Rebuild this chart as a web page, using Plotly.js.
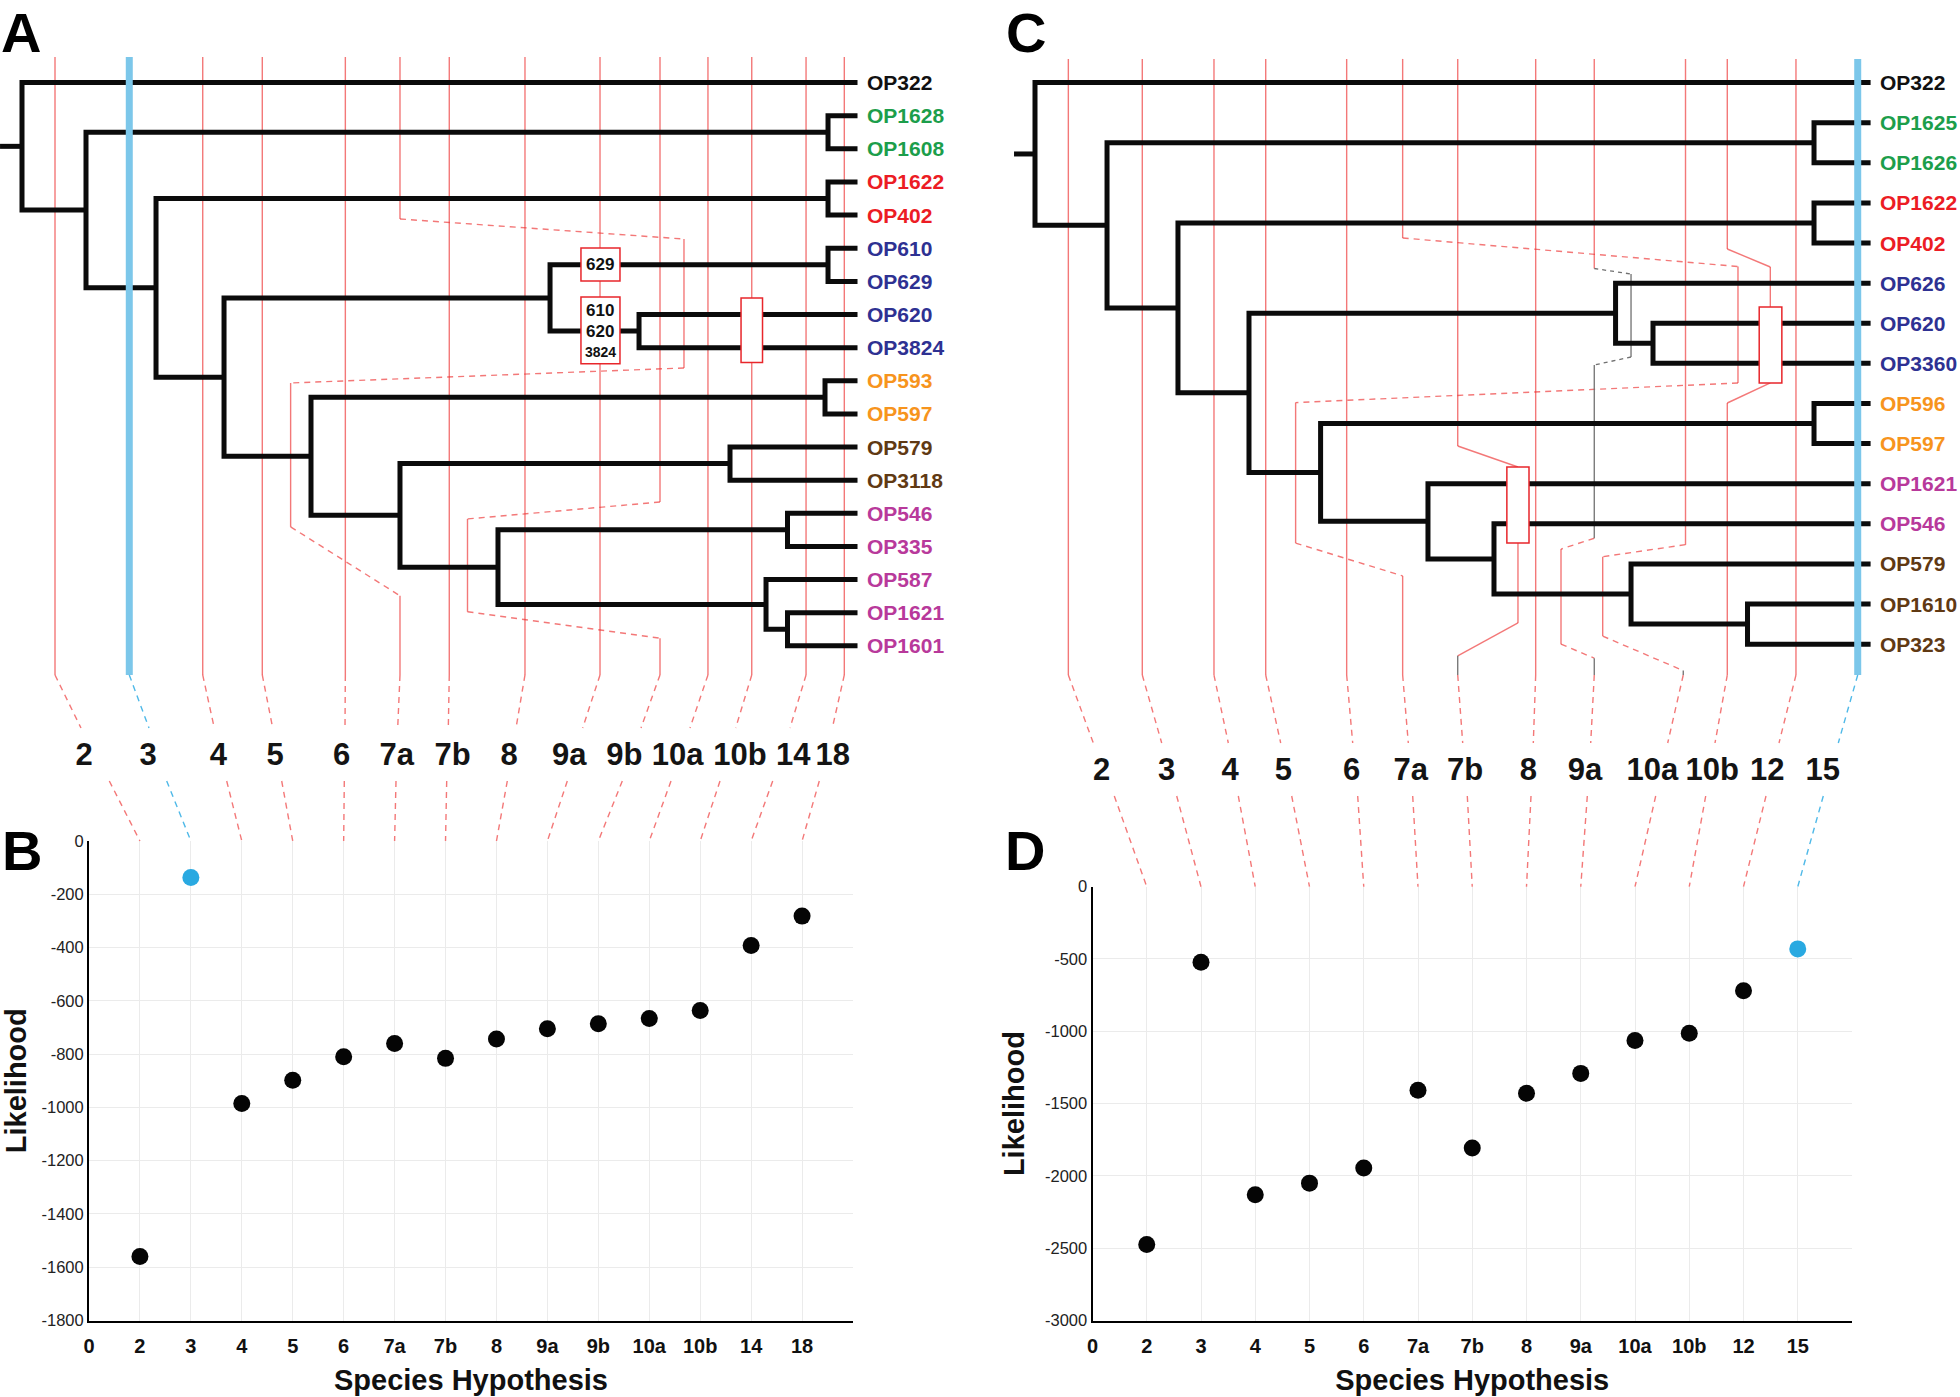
<!DOCTYPE html>
<html>
<head>
<meta charset="utf-8">
<script src="https://cdn.plot.ly/plotly-3.0.1.min.js"></script>
<style>
html,body{margin:0;padding:0;background:#ffffff;}
#chart{width:1960px;height:1397px;}
</style>
</head>
<body>
<div id="chart"></div>
<script>
// ======================= DATA =======================
// ---- Panel A tree ----
const tipsA = ['OP322','OP1628','OP1608','OP1622','OP402','OP610','OP629','OP620','OP3824',
               'OP593','OP597','OP579','OP3118','OP546','OP335','OP587','OP1621','OP1601'];
const tipGroupA = ['out','g','g','r','r','b','b','b','b','o','o','br','br','p','p','p','p','p'];
// internal nodes: [name, depth (root = 0, tips = 100), child 1, child 2]
const nodesA = [
  ['root', 0,     'OP322', 'n2'],
  ['n2',   7.66,  'cG',    'n3'],
  ['cG',   96.47, 'OP1628','OP1608'],
  ['n3',   16.04, 'cR',    'n4'],
  ['cR',   96.47, 'OP1622','OP402'],
  ['n4',   24.18, 'cB',    'n5'],
  ['cB',   63.2,  'cB1',   'cB2'],
  ['cB1',  96.47, 'OP610', 'OP629'],
  ['cB2',  73.85, 'OP620', 'OP3824'],
  ['n5',   34.59, 'cO',    'n6'],
  ['cO',   96.11, 'OP593', 'OP597'],
  ['n6',   45.24, 'cBr',   'n7'],
  ['cBr',  84.74, 'OP579', 'OP3118'],
  ['n7',   56.97, 'cP1',   'cP2'],
  ['cP1',  91.62, 'OP546', 'OP335'],
  ['cP2',  89.05, 'OP587', 'cP3'],
  ['cP3',  91.62, 'OP1621','OP1601']
];
const rootStubA = -2.63;
// ---- Panel B (species hypotheses for tree A) ----
const hypA  = ['2','3','4','5','6','7a','7b','8','9a','9b','10a','10b','14','18'];
const likeA = [-1560,-137,-985,-898,-810,-760,-816,-743,-705,-686,-666,-636,-392,-282];
const cutA  = [3.95,12.84,21.63,28.76,38.70,45.24,51.14,60.20,69.18,76.36,82.10,87.34,93.84,98.42];
const bestA = '3';
const boxTextA = ['629','610','620','3824'];
const yTicksB = [0,-200,-400,-600,-800,-1000,-1200,-1400,-1600,-1800];

// ---- Panel C tree ----
const tipsC = ['OP322','OP1625','OP1626','OP1622','OP402','OP626','OP620','OP3360',
               'OP596','OP597','OP1621','OP546','OP579','OP1610','OP323'];
const tipGroupC = ['out','g','g','r','r','b','b','b','o','o','p','p','br','br','br'];
const nodesC = [
  ['root', 0,     'OP322', 'n2'],
  ['n2',   8.62,  'cG',    'n3'],
  ['cG',   93.23, 'OP1625','OP1626'],
  ['n3',   17.11, 'cR',    'n4'],
  ['cR',   93.23, 'OP1622','OP402'],
  ['n4',   25.61, 'cB',    'n5'],
  ['cB',   69.48, 'OP626', 'cB2'],
  ['cB2',  73.96, 'OP620', 'OP3360'],
  ['n5',   34.18, 'cO',    'n6'],
  ['cO',   93.23, 'OP596', 'OP597'],
  ['n6',   47.03, 'OP1621','n7'],
  ['n7',   54.93, 'OP546', 'n8'],
  ['n8',   71.33, 'OP579', 'n9'],
  ['n9',   85.27, 'OP1610','OP323']
];
const rootStubC = -2.51;
// ---- Panel D (species hypotheses for tree C) ----
const hypC  = ['2','3','4','5','6','7a','7b','8','9a','10a','10b','12','15'];
const likeC = [-2474,-522,-2130,-2050,-1946,-1408,-1807,-1429,-1291,-1063,-1014,-719,-430];
const cutC  = [3.99,12.84,21.42,27.61,37.30,44.00,50.59,59.92,66.93,77.85,82.85,91.07,98.46];
const bestC = '15';
const yTicksD = [0,-500,-1000,-1500,-2000,-2500,-3000];

// ======================= GEOMETRY & STYLE =======================
const W = 1960, H = 1397;
const FONT = 'Liberation Sans, Arial, Helvetica, sans-serif';
const GROUPCOL = {out:'#111111', g:'#1c9e4b', r:'#ec1c24', b:'#2e3192', o:'#f7941d', br:'#603913', p:'#b8399b'};
const RED = 'rgba(236,48,48,0.65)', GREY = '#707070', BLUE = '#7cc7ea', BLUEDASH = '#4fb9e8';

const AX = {
  tA: {xd:[0,0.5], xr:[-2.633,114.66], yd:[0,1], yr:[39.674,-2.4932]},
  tC: {xd:[0.5,1], xr:[-6.582,110.70], yd:[0,1], yr:[32.77,-2.0593]},
  B:  {xd:[0.045408,0.435204], xr:[0,15], yd:[0.05476,0.397996], yr:[-1800,0]},
  D:  {xd:[0.557398,0.944898], xr:[0,14], yd:[0.05476,0.365283], yr:[-3000,0]}
};
function toPx(a, v){ return (a.xd[0] + (v-a.xr[0])/(a.xr[1]-a.xr[0])*(a.xd[1]-a.xd[0]))*W; }
function toPy(a, v){ return (1 - (a.yd[0] + (v-a.yr[0])/(a.yr[1]-a.yr[0])*(a.yd[1]-a.yd[0])))*H; }

// cut-line extent (tree rows) and detour paths (tree units: [depth, row]); segment styles:
// s = red solid, d = red dashed, g = grey solid, G = grey dashed, n = gap
const cutRowsA = [-0.77, 17.88];
const cutRowsC = [-0.59, 14.77];
const pathsA = {
  '7a': {pts:[[45.24,-0.77],[45.24,4.117],[79.23,4.721],[79.23,8.614],[32.15,9.067],[32.15,13.41],[45.24,15.49],[45.24,17.88]], st:'sdsdsds'},
  '9b': {pts:[[76.36,-0.77],[76.36,12.66],[53.32,13.17],[53.32,15.97],[76.36,16.77],[76.36,17.88]], st:'sdsds'}
};
const pathsC = {
  '7a':  {pts:[[44.00,-0.59],[44.00,3.874],[84.13,4.585],[84.13,7.489],[31.19,7.978],[31.19,11.48],[44.00,12.30],[44.00,14.77]], st:'sdsdsds'},
  '7b':  {pts:[[50.59,-0.59],[50.59,9.06],[57.80,9.584],[57.80,11.48],[57.80,13.47],[50.59,14.29],[50.59,14.77]], st:'ssnssg'},
  '9a':  {pts:[[66.93,-0.59],[66.93,4.635],[71.33,4.772],[71.33,6.841],[66.93,7.041],[66.93,11.36],[62.95,11.63],[62.95,14.0],[66.93,14.35],[66.93,14.77]], st:'sGgGgdsdg'},
  '10a': {pts:[[77.85,-0.59],[77.85,11.52],[67.94,11.82],[67.94,13.80],[77.58,14.66],[77.58,14.77]], st:'sdsdg'},
  '10b': {pts:[[82.85,-0.59],[82.85,4.149],[88.0,4.597],[88.0,5.595],[88.0,7.489],[82.85,7.988],[82.85,14.77]], st:'sssnss'}
};
// boxes on branches (tree units)
const boxesA = [[66.9,71.57,4.99,5.99],[66.9,71.57,6.47,8.49],[86.06,88.63,6.5,8.45]];
const boxLabelPosA = [[69.23,5.5,17],[69.23,6.864,17],[69.23,7.519,17],[69.23,8.123,14]];
const boxesC = [[56.47,59.12,9.584,11.48],[86.67,89.38,5.595,7.489]];

// hypothesis-label row (pixels)
const labRowA = {y:757, yUp:728, yLow:781,
  lab:[84,148,218.3,275,341.7,396.7,452.7,509,569.3,624.3,677.7,740,793.3,832.7],
  up:[81,149,214.3,272.7,345,397.7,448.3,516,582.7,641,690,735.7,790,832.3],
  low:[109.3,166.7,226.7,281.7,344.3,396,446.7,507.3,567.3,622.3,671,720,772.7,819.3]};
const labRowC = {y:772, yUp:743, yLow:796,
  lab:[1101.7,1166.7,1230,1283.3,1351.7,1410.7,1465,1528.3,1585,1652.3,1712.3,1767.3,1822.7],
  up:[1093.3,1161.7,1228.3,1280.7,1352.7,1408.3,1462.7,1533.3,1590.7,1667.7,1715,1779,1838.3],
  low:[1114.3,1176.7,1238.3,1291.7,1357.7,1412.7,1467.3,1531,1587.3,1655.7,1705.7,1766,1823.3]};

// ======================= BUILDERS =======================
function treeLines(tips, nodes, stub){
  const y = {}, dep = {}, map = {};
  tips.forEach((t,i)=>{ y[t]=i; dep[t]=100; });
  nodes.forEach(n=>{ map[n[0]]=n; dep[n[0]]=n[1]; });
  const gy = nm => (nm in y) ? y[nm] : (y[nm] = (gy(map[nm][2]) + gy(map[nm][3]))/2);
  const xs=[], ys=[];
  nodes.forEach(([nm,d,c1,c2])=>{
    gy(nm);
    xs.push(dep[c1], d, d, dep[c2], null);
    ys.push(y[c1], y[c1], y[c2], y[c2], null);
  });
  xs.push(stub, 0, null); ys.push(y.root, y.root, null);
  return {xs, ys};
}
function cutLines(cuts, hyps, best, paths, rows){
  const seg = {s:{x:[],y:[]}, d:{x:[],y:[]}, g:{x:[],y:[]}, G:{x:[],y:[]}, blue:{x:[],y:[]}};
  const endX = [];
  cuts.forEach((c,i)=>{
    const h = hyps[i];
    if (h === best){ seg.blue.x.push(c,c,null); seg.blue.y.push(rows[0],rows[1],null); endX.push(c); return; }
    const p = paths[h];
    if (!p){ seg.s.x.push(c,c,null); seg.s.y.push(rows[0],rows[1],null); endX.push(c); return; }
    for (let k=0;k<p.st.length;k++){
      const t = p.st[k]; if (t==='n') continue;
      seg[t].x.push(p.pts[k][0], p.pts[k+1][0], null);
      seg[t].y.push(p.pts[k][1], p.pts[k+1][1], null);
    }
    endX.push(p.pts[p.pts.length-1][0]);
  });
  return {seg, endX};
}
function connectors(treeAx, scatAx, endX, row, hyps, best, botRow){
  const red={x:[],y:[]}, blue={x:[],y:[]};
  const top = toPy(scatAx, 0), yb = toPy(treeAx, botRow);
  hyps.forEach((h,i)=>{
    const t = (h===best) ? blue : red;
    t.x.push(toPx(treeAx,endX[i]), row.up[i], null, row.low[i], toPx(scatAx,i+1), null);
    t.y.push(yb, row.yUp, null, row.yLow, top, null);
  });
  return {red, blue};
}
function lineTrace(xy, xa, ya, color, width, dash){
  return {type:'scatter', mode:'lines', x:xy.x, y:xy.y, xaxis:xa, yaxis:ya, hoverinfo:'skip',
          line:{color:color, width:width, dash:dash||'solid'}, connectgaps:false};
}

const tA = treeLines(tipsA, nodesA, rootStubA);
const tC = treeLines(tipsC, nodesC, rootStubC);
const cA = cutLines(cutA, hypA, bestA, pathsA, cutRowsA);
const cC = cutLines(cutC, hypC, bestC, pathsC, cutRowsC);
const kA = connectors(AX.tA, AX.B, cA.endX, labRowA, hypA, bestA, cutRowsA[1]);
const kC = connectors(AX.tC, AX.D, cC.endX, labRowC, hypC, bestC, cutRowsC[1]);

const traces = [];
function treePanel(c, t, xa, ya){
  traces.push(lineTrace(c.seg.s, xa, ya, RED, 1.4));
  traces.push(lineTrace(c.seg.d, xa, ya, RED, 1.4, '6px,5px'));
  traces.push(lineTrace(c.seg.g, xa, ya, GREY, 1.3));
  traces.push(lineTrace(c.seg.G, xa, ya, GREY, 1.3, '4px,4px'));
  traces.push(lineTrace({x:t.xs, y:t.ys}, xa, ya, '#0b0b0b', 5));
  traces.push(lineTrace(c.seg.blue, xa, ya, BLUE, 7));
}
treePanel(cA, tA, 'x', 'y');
treePanel(cC, tC, 'x2', 'y2');

// connectors + hypothesis label rows (pixel overlay axes)
traces.push(lineTrace({x:kA.red.x.concat(kC.red.x), y:kA.red.y.concat(kC.red.y)}, 'x5','y5', RED, 1.4, '6px,5px'));
traces.push(lineTrace({x:kA.blue.x.concat(kC.blue.x), y:kA.blue.y.concat(kC.blue.y)}, 'x5','y5', BLUEDASH, 1.4, '6px,5px'));
[[labRowA, hypA],[labRowC, hypC]].forEach(([row, hyps])=>{
  traces.push({type:'scatter', mode:'text', x:row.lab, y:hyps.map(()=>row.y), text:hyps,
    xaxis:'x5', yaxis:'y5', hoverinfo:'skip', textposition:'middle center',
    textfont:{family:FONT, size:31, weight:'bold', color:'#141414'}});
});

// scatter panels
function scatterTrace(hyps, vals, best, xa, ya){
  return {type:'scatter', mode:'markers', x:hyps.map((h,i)=>i+1), y:vals, xaxis:xa, yaxis:ya,
    hoverinfo:'skip', cliponaxis:false,
    marker:{size:17, color:hyps.map(h=> h===best ? '#29a9e1' : '#050505'), line:{width:0}}};
}
traces.push(scatterTrace(hypA, likeA, bestA, 'x3', 'y3'));
traces.push(scatterTrace(hypC, likeC, bestC, 'x4', 'y4'));

// ======================= LAYOUT =======================
function hiddenAxis(a, which, anchor){
  return {domain: which==='x'?a.xd:a.yd, range: which==='x'?a.xr:a.yr, anchor:anchor,
          visible:false, fixedrange:true, showgrid:false, zeroline:false};
}
function scatX(a, hyps, anchor){
  const vals = [], txt = [];
  for (let i=0;i<=a.xr[1];i++){ vals.push(i); txt.push(i===0 ? '0' : (hyps[i-1]||'')); }
  return {domain:a.xd, range:a.xr, anchor:anchor, tickmode:'array', tickvals:vals, ticktext:txt,
    showgrid:true, gridcolor:'#ebebeb', gridwidth:1, zeroline:false, showline:true, linecolor:'#000',
    linewidth:2, ticks:'', ticklabelstandoff:6, fixedrange:true,
    tickfont:{family:FONT, size:20, weight:'bold', color:'#111'},
    title:{text:'Species Hypothesis', standoff:14, font:{family:FONT, size:29, weight:'bold', color:'#111'}}};
}
function scatY(a, ticks, anchor){
  return {domain:a.yd, range:a.yr, anchor:anchor, tickmode:'array', tickvals:ticks,
    ticktext:ticks.map(v=>String(v)), showgrid:true, gridcolor:'#ebebeb', gridwidth:1,
    zeroline:false, showline:true, linecolor:'#000', linewidth:2, ticks:'', fixedrange:true,
    tickfont:{family:FONT, size:16.5, color:'#222'},
    title:{text:'Likelihood', standoff:12, font:{family:FONT, size:29, weight:'bold', color:'#111'}}};
}

const annotations = [];
// panel letters: [text, x, y, yanchor]
[['A',0,0,'top'],['B',1,850,'middle'],['C',1005,0,'top'],['D',1004,850,'middle']].forEach(([t,x,y,ya])=>{
  annotations.push({xref:'x5', yref:'y5', x:x, y:y, text:t, showarrow:false, xanchor:'left', yanchor:ya,
    borderpad:0, font:{family:FONT, size:56, weight:'bold', color:'#000'}});
});
[[tipsA, tipGroupA, 'x', 'y'], [tipsC, tipGroupC, 'x2', 'y2']].forEach(([tips, grp, xa, ya])=>{
  tips.forEach((t,i)=>annotations.push({xref:xa, yref:ya, x:100, y:i, text:t, showarrow:false,
    xanchor:'left', yanchor:'middle', xshift:7,
    font:{family:FONT, size:21, weight:'bold', color:GROUPCOL[grp[i]]}}));
});
boxTextA.forEach((t,i)=>{
  const p = boxLabelPosA[i];
  annotations.push({xref:'x', yref:'y', x:p[0], y:p[1], text:t, showarrow:false, xanchor:'center', yanchor:'middle',
    font:{family:FONT, size:p[2], weight:'bold', color:'#111'}});
});

const shapes = [];
[[boxesA,'x','y'],[boxesC,'x2','y2']].forEach(([bx, xr, yr])=>{
  bx.forEach(b=>shapes.push({type:'rect', xref:xr, yref:yr, x0:b[0], x1:b[1], y0:b[2], y1:b[3],
    fillcolor:'#ffffff', line:{color:'#e8262b', width:1.5}, layer:'above'}));
});

const layout = {
  width:W, height:H, autosize:false, showlegend:false, hovermode:false,
  margin:{l:0, r:0, t:0, b:0, pad:0},
  paper_bgcolor:'#ffffff', plot_bgcolor:'rgba(0,0,0,0)',
  xaxis: hiddenAxis(AX.tA,'x','y'),  yaxis: hiddenAxis(AX.tA,'y','x'),
  xaxis2: hiddenAxis(AX.tC,'x','y2'), yaxis2: hiddenAxis(AX.tC,'y','x2'),
  xaxis3: scatX(AX.B, hypA, 'y3'), yaxis3: scatY(AX.B, yTicksB, 'x3'),
  xaxis4: scatX(AX.D, hypC, 'y4'), yaxis4: scatY(AX.D, yTicksD, 'x4'),
  xaxis5: {domain:[0,1], range:[0,W], anchor:'y5', visible:false, fixedrange:true},
  yaxis5: {domain:[0,1], range:[H,0], anchor:'x5', visible:false, fixedrange:true},
  annotations: annotations, shapes: shapes
};

Plotly.newPlot('chart', traces, layout, {staticPlot:true, displayModeBar:false});
</script>
</body>
</html>
